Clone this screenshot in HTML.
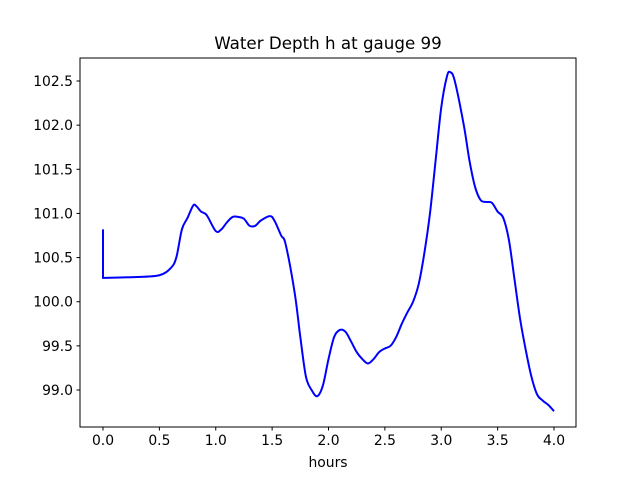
<!DOCTYPE html>
<html><head><meta charset="utf-8"><style>
body{margin:0;background:#fff;font-family:"DejaVu Sans","Liberation Sans",sans-serif}
svg text{font-family:"DejaVu Sans","Liberation Sans",sans-serif;font-size:13.9px;fill:#000}
</style></head><body>
<svg id="chart" width="640" height="480">
<rect width="640" height="480" fill="#fff"/>
<text x="328" y="49" text-anchor="middle" style="font-size:16.7px">Water Depth h at gauge 99</text>
<text x="328" y="467" text-anchor="middle">hours</text>
<g id="ticks"></g>
<path id="line" fill="none" stroke="#0000ff" stroke-width="2"/>
<rect x="80" y="58" width="496" height="369" fill="none" stroke="#000" stroke-width="1"/>
</svg>
<script>
const hours=[0,0,0.3,0.5,0.6,0.65,0.7,0.75,0.8,0.83,0.87,0.92,1.0,1.05,1.1,1.15,1.2,1.25,1.3,1.35,1.4,1.48,1.52,1.58,1.62,1.7,1.75,1.8,1.85,1.9,1.95,2.0,2.05,2.1,2.15,2.2,2.25,2.3,2.35,2.4,2.45,2.5,2.55,2.6,2.65,2.7,2.75,2.8,2.85,2.9,2.95,3.0,3.05,3.08,3.12,3.2,3.25,3.3,3.35,3.4,3.45,3.5,3.55,3.6,3.65,3.7,3.75,3.8,3.85,3.9,3.95,4.0];
const depth=[100.82,100.27,100.28,100.3,100.38,100.5,100.82,100.95,101.09,101.08,101.02,100.98,100.8,100.82,100.9,100.96,100.96,100.94,100.86,100.86,100.92,100.97,100.92,100.75,100.65,100.1,99.6,99.15,99.0,98.93,99.05,99.35,99.6,99.68,99.66,99.55,99.43,99.35,99.3,99.35,99.43,99.47,99.5,99.6,99.75,99.88,100.0,100.2,100.55,101.0,101.6,102.2,102.55,102.6,102.5,102.0,101.6,101.3,101.15,101.13,101.12,101.02,100.95,100.7,100.25,99.8,99.45,99.15,98.95,98.88,98.83,98.76];
const xTicks=[0,0.5,1,1.5,2,2.5,3,3.5,4];
const yTicks=[99,99.5,100,100.5,101,101.5,102,102.5];
const X=v=>103+v*112.75;
const Y=v=>390-(v-99)*88.286;
const NS='http://www.w3.org/2000/svg';
const g=document.getElementById('ticks');
function mk(t,a){const e=document.createElementNS(NS,t);for(const k in a)e.setAttribute(k,a[k]);return e;}
xTicks.forEach(v=>{
 const l=mk('line',{x1:X(v),x2:X(v),y1:427,y2:430.5,stroke:'#000'});
 
 
 g.appendChild(l);
 const t=mk('text',{x:X(v),y:445,'text-anchor':'middle'});t.textContent=v.toFixed(1);
 
 
 g.appendChild(t);
});
yTicks.forEach(v=>{
 const l=mk('line',{x1:76.5,x2:80,y1:Y(v),y2:Y(v),stroke:'#000'});
 
 
 g.appendChild(l);
 const t=mk('text',{x:73,y:Y(v)+5,'text-anchor':'end'});t.textContent=v.toFixed(1);
 
 
 g.appendChild(t);
});
const pts=hours.map((h,i)=>[X(h),Y(depth[i])]);
let d='M'+pts[0][0]+','+pts[0][1]+' L'+pts[1][0]+','+pts[1][1];
for(let i=1;i<pts.length-1;i++){
 const p0=pts[Math.max(i-1,1)],p1=pts[i],p2=pts[i+1],p3=pts[Math.min(i+2,pts.length-1)];
 const c1=[p1[0]+(p2[0]-p0[0])/6,p1[1]+(p2[1]-p0[1])/6];
 const c2=[p2[0]-(p3[0]-p1[0])/6,p2[1]-(p3[1]-p1[1])/6];
 d+=' C'+c1.join(',')+' '+c2.join(',')+' '+p2.join(',');
}
document.getElementById('line').setAttribute('d',d);
</script>
</body></html>
